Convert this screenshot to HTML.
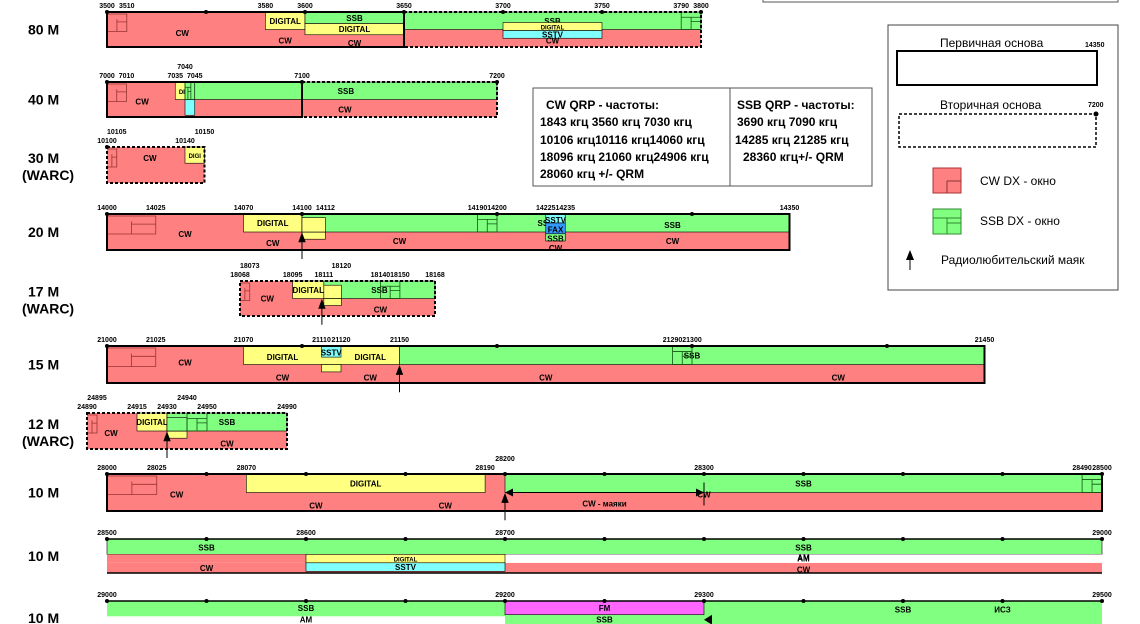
<!DOCTYPE html>
<html><head><meta charset="utf-8">
<style>
html,body{margin:0;padding:0;background:#fff;}
svg{display:block;font-family:"Liberation Sans","DejaVu Sans",sans-serif;}
.t{font-size:7px;font-weight:bold;fill:#000;}
.l{font-size:8px;font-weight:bold;fill:#000;text-anchor:middle;}
.b{font-size:14px;font-weight:bold;fill:#000;}
</style></head>
<body>
<svg id="chart" width="1140" height="624" viewBox="0 0 1140 624" xmlns="http://www.w3.org/2000/svg">
<g id="bands"></g>
<g>
<rect x="533" y="88" width="339" height="98" fill="#fff" stroke="#555" stroke-width="1"/>
<line x1="730" y1="88" x2="730" y2="186" stroke="#555"/>
<text x="546" y="109" style="font-size:12px;font-weight:bold">CW QRP - частоты:</text>
<text x="540" y="126" style="font-size:12px;font-weight:bold">1843 кгц 3560 кгц 7030 кгц</text>
<text x="540" y="144" style="font-size:12px;font-weight:bold">10106 кгц10116 кгц14060 кгц</text>
<text x="540" y="161" style="font-size:12px;font-weight:bold">18096 кгц 21060 кгц24906 кгц</text>
<text x="540" y="178" style="font-size:12px;font-weight:bold">28060 кгц   +/- QRM</text>
<text x="737" y="109" style="font-size:12px;font-weight:bold">SSB QRP - частоты:</text>
<text x="737" y="126" style="font-size:12px;font-weight:bold">3690 кгц  7090 кгц</text>
<text x="735" y="144" style="font-size:12px;font-weight:bold">14285 кгц 21285 кгц</text>
<text x="743" y="161" style="font-size:12px;font-weight:bold">28360 кгц+/- QRM</text>
</g>
<g>
<rect x="763" y="-5" width="355" height="7" fill="none" stroke="#555"/>
<rect x="888" y="25" width="230" height="265" fill="#fff" stroke="#444"/>
<text x="940" y="47" style="font-size:12px">Первичная основа</text>
<text x="1085" y="47" class="t">14350</text>
<rect x="897" y="51" width="200" height="34" fill="#fff" stroke="#000" stroke-width="2"/>
<text x="940" y="109" style="font-size:12px">Вторичная основа</text>
<text x="1088" y="107" class="t">7200</text>
<rect x="899" y="114" width="197" height="33" fill="#fff" stroke="#000" stroke-width="1.5" stroke-dasharray="3,2"/>
<circle cx="1096" cy="114" r="2.5"/>
<rect x="933" y="168" width="28" height="25" fill="#ff8080" stroke="#a33"/>
<path d="M947 181V193M947 181H961" stroke="#833" fill="none"/>
<text x="980" y="185" style="font-size:12px">CW DX - окно</text>
<rect x="933" y="209" width="28" height="25" fill="#80ff80" stroke="#383"/>
<path d="M933 218H961M947 218V234M947 223H961" stroke="#383" fill="none"/>
<text x="980" y="225" style="font-size:12px">SSB DX - окно</text>
<path d="M910 270V252" stroke="#000"/><path d="M906 260L910 250L914 260Z"/>
<text x="941" y="264" style="font-size:12px">Радиолюбительский маяк</text>
</g>
<script>
// band definitions: name, start freq, label
const bandNames=["80 M","40 M","30 M","20 M","17 M","15 M","12 M","10 M","10 M","10 M"];
const bandSub=["","","(WARC)","","(WARC)","","(WARC)","","",""];
const bandStart=[3500,7000,10100,14000,18068,21000,24890,28000,28500,29000];
const bandEnd=[3800,7200,10150,14350,18168,21450,24990,28500,29000,29500];
// layout (not data)
const bx0=[107,107,107,107,240,107,87,107,107,107];
const bk=[1.98,1.95,1.95,1.95,1.95,1.95,2.0,1.99,1.99,1.99];
const by=[12,82,147,214,281,346,413,474,539,601];
const bh=[35,35,36,36,35,37,36,37,34,34];
// segments: band, f1, f2, frac top, frac bottom, color, label
const segs=[
[0,3500,3800,0,1,'r',''],[0,3580,3600,0,.5,'y','DIGITAL'],[0,3600,3650,0,.33,'g','SSB'],[0,3600,3650,.33,.65,'y','DIGITAL'],
[0,3650,3800,0,.5,'g','SSB'],[0,3700,3750,.3,.53,'y','DIGITAL'],[0,3700,3750,.53,.75,'c','SSTV'],
[1,7000,7200,0,1,'r',''],[1,7035,7045,0,.5,'y','DIGI'],[1,7040,7045,0,.5,'g',''],[1,7040,7045,.5,.95,'c',''],[1,7045,7200,0,.5,'g','SSB'],
[2,10100,10150,0,1,'r',''],[2,10140,10150,0,.45,'y','DIGI'],
[3,14000,14350,0,1,'r',''],[3,14070,14100,0,.5,'y','DIGITAL'],[3,14100,14112,.5,.7,'y',''],[3,14100,14350,0,.5,'g','SSB'],[3,14100,14112,.1,.5,'y',''],
[3,14225,14235,0,.25,'c',''],[3,14225,14235,.25,.55,'b',''],[3,14225,14235,.55,.75,'g',''],
[4,18068,18168,0,1,'r',''],[4,18095,18111,0,.5,'y','DIGITAL'],[4,18111,18120,.5,.7,'y',''],[4,18111,18168,0,.5,'g','SSB'],[4,18111,18120,.12,.5,'y',''],
[5,21000,21450,0,1,'r',''],[5,21070,21150,0,.5,'y',''],[5,21110,21120,.5,.7,'y',''],[5,21110,21120,0,.3,'c',''],[5,21150,21450,0,.5,'g','SSB'],
[6,24890,24990,0,1,'r',''],[6,24915,24930,0,.5,'y','DIGITAL'],[6,24930,24940,.5,.7,'y',''],[6,24930,24990,0,.5,'g','SSB'],[6,24930,24940,.12,.5,'g',''],
[7,28000,28500,0,1,'r',''],[7,28070,28190,0,.5,'y','DIGITAL'],[7,28200,28500,0,.5,'g','SSB'],
[8,28500,29000,0,.45,'g',''],[8,28500,29000,.7,1,'r',''],[8,28700,29000,.45,.7,'w','AM'],[8,28500,28600,.45,.7,'r',''],[8,28600,28700,.45,.7,'y','DIGITAL'],[8,28600,28700,.7,.95,'c','SSTV'],
[9,29000,29500,0,1,'g',''],[9,29000,29200,.45,1,'w',''],[9,29200,29300,0,.4,'m','FM'],[9,29200,29300,.7,1,'r','']
];
const extra=[ // band, freq, frac, text
[0,3538,.6,'CW'],[0,3590,.82,'CW'],[0,3625,.88,'CW'],[0,3725,.82,'CW'],[0,3725,.07,''],
[1,7018,.55,'CW'],[1,7122,.78,'CW'],[1,7150,.78,''],
[2,10122,.3,'CW'],
[3,14040,.55,'CW'],[3,14085,.8,'CW'],[3,14150,.75,'CW'],[3,14230,.95,'CW'],[3,14290,.75,'CW'],[3,14290,.3,'SSB'],[3,14230,.17,'SSTV'],[3,14230,.43,'FAX'],[3,14230,.68,'SSB'],
[4,18082,.5,'CW'],[4,18140,.82,'CW'],
[5,21040,.45,'CW'],[5,21090,.3,'DIGITAL'],[5,21135,.3,'DIGITAL'],[5,21115,.18,'SSTV'],[5,21090,.85,'CW'],[5,21135,.85,'CW'],[5,21225,.85,'CW'],[5,21375,.85,'CW'],[5,21375,.3,''],
[6,24902,.55,'CW'],[6,24960,.85,'CW'],
[7,28035,.55,'CW'],[7,28105,.85,'CW'],[7,28170,.85,'CW'],[7,28250,.8,'CW - маяки'],[7,28300,.55,'CW'],[7,28350,.2,''],
[8,28550,.25,'SSB'],[8,28550,.85,'CW'],[8,28850,.25,'SSB'],[8,28850,.55,'AM'],[8,28850,.9,'CW'],
[9,29100,.2,'SSB'],[9,29100,.55,'AM'],[9,29250,.55,'SSB'],[9,29250,.9,'CW'],[9,29400,.25,'SSB'],[9,29450,.25,'ИСЗ']
];
const ticks=[[3500,3510,3580,3600,3650,3700,3750,3790,3800],[7000,7010,7035,7045,7100,7200],[10100,10140],[14000,14025,14070,14100,14112,14190,14200,14225,14235,14350],
[18068,18095,18111,18140,18150,18168],[21000,21025,21070,21110,21120,21150,21290,21300,21450],[24890,24915,24930,24950,24990],[28000,28025,28070,28190,28300,28490,28500],[28500,28600,28700,29000],[29000,29200,29300,29500]];
const upTicks=[[],[7040],[10105,10150],[],[18073,18120],[],[24895,24940],[28200],[],[]];
const solidTo=[3650,7100,0,14350,0,21450,0,28500,29000,29500];
const beacons=[[3,14100],[4,18110],[5,21150],[6,24930],[7,28200]];
const cwDX=[[0,3500,3510],[1,7000,7010],[2,10100,10105],[3,14000,14025],[4,18068,18073],[5,21000,21025],[6,24890,24895],[7,28000,28025]];
const ssbDX=[[0,3790,3800],[1,7040,7043],[3,14190,14200],[4,18140,18150],[5,21290,21300],[6,24940,24950],[7,28490,28500]];
const COL={r:'#ff8080',g:'#80ff80',y:'#ffff80',c:'#80ffff',b:'#3399ff',m:'#ff66ff',w:'#ffffff'};
const NS='http://www.w3.org/2000/svg';
const root=document.getElementById('bands');
function X(b,f){return bx0[b]+(f-bandStart[b])*bk[b];}
function Y(b,fr){return by[b]+fr*bh[b];}
function mk(tag,at,txt){const e=document.createElementNS(NS,tag);for(const k in at)e.setAttribute(k,at[k]);if(txt!==undefined)e.textContent=txt;root.appendChild(e);return e;}
bandNames.forEach((n,b)=>{
  let e=mk('text',{x:28,y:by[b]+bh[b]/2+(bandSub[b]?-2:5),class:'b'},n);
  
  
  if(bandSub[b]){e=mk('text',{x:22,y:by[b]+bh[b]/2+15,class:'b'},bandSub[b]);
  
  }
});
segs.forEach(s=>{
  const [b,f1,f2,t,u,c,lab]=s;
  const r=mk('rect',{x:X(b,f1),y:Y(b,t),width:X(b,f2)-X(b,f1),height:(u-t)*bh[b],fill:COL[c],stroke:(c==='r'||c==='w'||t===0&&u===1)?'none':'#000','stroke-width':0.6});
  
  
  if(lab){const e=mk('text',{x:(X(b,f1)+X(b,f2))/2,y:Y(b,(t+u)/2)+3,class:'l',style:(X(b,f2)-X(b,f1)<30||lab.length>6&&(u-t)*bh[b]<10)?'font-size:6px':''},lab);
  
  }
});
extra.forEach(s=>{const [b,f,fr,txt]=s;if(!txt)return;
  const e=mk('text',{x:X(b,f),y:Y(b,fr)+3,class:'l',style:txt.length>4&&b===3?'font-size:5px':''},txt);
  
  });
cwDX.forEach(d=>{const [b,f1,f2]=d;const x1=X(b,f1),x2=X(b,f2),y=by[b]+2,h=bh[b]*.5;
  const g=mk('path',{d:`M${x1} ${y}H${x2}V${y+h}H${x1}M${(x1+x2)/2} ${y+h*.3}V${y+h}M${(x1+x2)/2} ${y+h*.45}H${x2}`,fill:'none',stroke:'#933','stroke-width':0.8});
  
  });
ssbDX.forEach(d=>{const [b,f1,f2]=d;const x1=X(b,f1),x2=X(b,f2),y=by[b],h=bh[b]*.5;
  const g=mk('path',{d:`M${x1} ${y}V${y+h}H${x2}V${y}M${x1} ${y+h*.3}H${x2}M${(x1+x2)/2} ${y+h*.3}V${y+h}M${(x1+x2)/2} ${y+h*.55}H${x2}`,fill:'none',stroke:'#151','stroke-width':0.8});
  
  });
bandStart.forEach((f0,b)=>{
  const x1=X(b,f0),x2=X(b,bandEnd[b]),xs=solidTo[b]?X(b,Math.min(solidTo[b],bandEnd[b])):x1,y1=by[b],y2=by[b]+bh[b];
  if(b>=8){mk('path',{d:`M${x1} ${y1}H${x2}M${x1} ${y2}H${x2}`,stroke:'#000','stroke-width':1.5});}
  else{
  if(xs>x1){const e=mk('rect',{x:x1,y:y1,width:xs-x1,height:bh[b],fill:'none',stroke:'#000','stroke-width':2});
    
    }
  if(x2>xs+1){const e=mk('rect',{x:xs,y:y1,width:x2-xs,height:bh[b],fill:'none',stroke:'#000','stroke-width':2,'stroke-dasharray':'3,2'});
    
    }}
  ticks[b].forEach(f=>{const e=mk('text',{x:X(b,f),y:y1-4,class:'t','text-anchor':'middle'},f);
    
    });
  upTicks[b].forEach(f=>{const e=mk('text',{x:X(b,f),y:y1-13,class:'t','text-anchor':'middle'},f);
    
    });
  for(let f=Math.ceil(f0/50)*50;f<=bandEnd[b];f+=50){if((f-f0)%100===0||b>=7||b===0)mk('circle',{cx:X(b,f),cy:y1,r:2});}
});
beacons.forEach(d=>{const [b,f]=d;const x=X(b,f),y=by[b]+bh[b]*.55;
  const e=mk('path',{d:`M${x} ${y+bh[b]*.7}V${y}M${x-3} ${y+8}L${x} ${y}L${x+3} ${y+8}Z`,stroke:'#000',fill:'#000'});
  
  });
// 10M beacon range arrow
mk('path',{d:`M${X(7,28200)} ${Y(7,.5)}H${X(7,28300)}M${X(7,28300)} ${Y(7,.5)-10}V${Y(7,.85)}`,stroke:'#000'});
mk('path',{d:`M${X(7,28200)} ${Y(7,.5)}l8 -4v8zM${X(7,28300)} ${Y(7,.5)}l-8 -4v8z`,fill:'#000'});
mk('path',{d:`M${X(9,29300)} ${Y(9,.55)}l8 -5v10z`,fill:'#000'});
mk('text',{x:X(7,28315)+0,y:by[7]-12,class:'t','text-anchor':'middle'},'').remove();
mk('text',{x:X(7,28200),y:by[7]-13,class:'t','text-anchor':'middle'},'').remove();
</script>
</svg>
</body></html>
